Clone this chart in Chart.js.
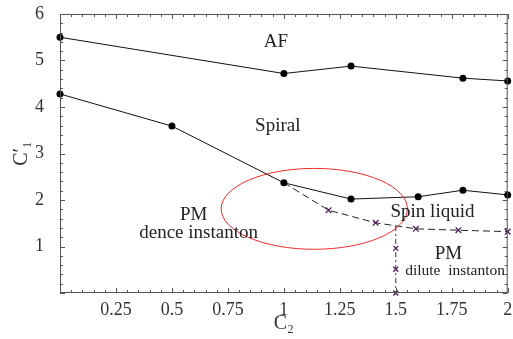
<!DOCTYPE html>
<html>
<head>
<meta charset="utf-8">
<script src="https://cdn.jsdelivr.net/npm/chart.js@4/dist/chart.umd.min.js"></script>
<style>
  html, body { margin: 0; padding: 0; background: #fff; }
  #wrap { width: 513px; height: 339px; }
</style>
</head>
<body>
<div id="wrap"><canvas id="phaseChart"></canvas></div>
<script>
// phase boundary lines
const afX = [0, 1, 1.3, 1.8, 2];
const afY = [5.5, 4.72, 4.88, 4.62, 4.56];

const spiralX = [0, 0.5, 1, 1.3, 1.6, 1.8, 2];
const spiralY = [4.28, 3.59, 2.37, 2.02, 2.07, 2.21, 2.11];

const diluteX = [1, 1.2, 1.41, 1.59, 1.78, 2];
const diluteY = [2.37, 1.78, 1.51, 1.38, 1.35, 1.32];

const verticalX = [1.5, 1.5, 1.5, 1.5];
const verticalY = [1.44, 0.96, 0.51, 0];

const xTickLabels = [0.25, 0.5, 0.75, 1, 1.25, 1.5, 1.75, 2];
const yTickLabels = [1, 2, 3, 4, 5, 6];

// region names, placed in data units
const regionNames = ['AF', 'Spiral', 'PM', 'dence instanton', 'Spin liquid', 'PM', 'dilute  instanton'];
const regionX = [0.965, 0.973, 0.597, 0.619, 1.664, 1.735, 1.765];
const regionY = [5.4, 3.6, 1.68, 1.29, 1.74, 0.84, 0.47];
const regionSize = [19, 19, 19, 19, 19, 19, 15.5];

// red ellipse: centre and radii in data units
const ellipse = { cx: 1.136, cy: 1.81, rx: 0.416, ry: 0.87 };

const toPoints = (xs, ys) => xs.map((x, i) => ({ x: x, y: ys[i] }));
const serif = '"Liberation Serif", "DejaVu Serif", serif';

const framePlugin = {
  id: 'frame',
  afterDatasetsDraw(chart) {
    const ctx = chart.ctx;
    const a = chart.chartArea;
    const xs = chart.scales.x, ys = chart.scales.y;
    ctx.save();
    // ellipse
    const cx = xs.getPixelForValue(ellipse.cx), cy = ys.getPixelForValue(ellipse.cy);
    const rx = xs.getPixelForValue(ellipse.cx + ellipse.rx) - cx;
    const ry = cy - ys.getPixelForValue(ellipse.cy + ellipse.ry);
    ctx.strokeStyle = '#ee2b2b';
    ctx.lineWidth = 1;
    ctx.beginPath();
    ctx.ellipse(cx, cy, rx, ry, 0, 0, Math.PI * 2);
    ctx.stroke();

    // frame + inward ticks
    ctx.strokeStyle = '#555';
    ctx.lineWidth = 1;
    ctx.strokeRect(a.left + 0.5, a.top + 0.5, a.right - a.left - 1, a.bottom - a.top - 1);
    ctx.beginPath();
    for (let i = 0; i <= 40; i++) {
      const px = Math.round(xs.getPixelForValue(i * 0.05)) + 0.5;
      const len = i % 5 === 0 ? 5 : 3;
      ctx.moveTo(px, a.bottom); ctx.lineTo(px, a.bottom - len);
      ctx.moveTo(px, a.top); ctx.lineTo(px, a.top + len);
    }
    for (let i = 0; i <= 30; i++) {
      const py = Math.round(ys.getPixelForValue(i * 0.2)) + 0.5;
      const len = i % 5 === 0 ? 5 : 3;
      ctx.moveTo(a.left, py); ctx.lineTo(a.left + len, py);
      ctx.moveTo(a.right, py); ctx.lineTo(a.right - len, py);
    }
    ctx.stroke();

    // region labels
    ctx.fillStyle = '#222';
    ctx.textAlign = 'center';
    ctx.textBaseline = 'middle';
    regionNames.forEach((name, i) => {
      ctx.font = regionSize[i] + 'px ' + serif;
      ctx.fillText(name, xs.getPixelForValue(regionX[i]), ys.getPixelForValue(regionY[i]));
    });
    ctx.restore();
  }
};

const solidLine = {
  showLine: true,
  borderColor: '#111',
  backgroundColor: '#000',
  borderWidth: 1,
  pointRadius: 3.5,
  pointBorderWidth: 0,
  pointBackgroundColor: '#000',
  clip: false
};

new Chart(document.getElementById('phaseChart').getContext('2d'), {
  type: 'scatter',
  data: {
    datasets: [
      Object.assign({ label: 'AF', data: toPoints(afX, afY) }, solidLine),
      Object.assign({ label: 'Spiral', data: toPoints(spiralX, spiralY) }, solidLine),
      {
        label: 'dilute',
        data: toPoints(diluteX, diluteY),
        showLine: true,
        borderColor: '#222',
        borderWidth: 1,
        borderDash: [7, 4],
        pointStyle: 'crossRot',
        pointRadius: [0, 4, 4, 4, 4, 4],
        pointBorderColor: '#4a1f55',
        pointBorderWidth: 1.3,
        clip: false
      },
      {
        label: 'vertical',
        data: toPoints(verticalX, verticalY),
        showLine: true,
        borderColor: '#333',
        borderWidth: 1,
        borderDash: [5, 3, 2, 3],
        pointStyle: 'crossRot',
        pointRadius: [0, 3.5, 3.5, 3.5],
        pointBorderColor: '#4a1f55',
        pointBorderWidth: 1.3,
        clip: false
      }
    ]
  },
  options: {
    responsive: true,
    maintainAspectRatio: false,
    animation: false,
    layout: { padding: { top: 14, right: 2, left: 0, bottom: 0 } },
    plugins: {
      legend: { display: false },
      tooltip: { enabled: false }
    },
    scales: {
      x: {
        type: 'linear',
        min: 0,
        max: 2,
        grid: { display: false },
        border: { display: false },
        afterBuildTicks: (scale) => { scale.ticks = xTickLabels.map(v => ({ value: v })); },
        afterFit: (scale) => { scale.height = 46; scale.paddingLeft = 0; scale.paddingRight = 0; },
        ticks: {
          color: '#333',
          padding: -2,
          maxRotation: 0,
          font: { family: serif, size: 18 },
          callback: (v) => String(v)
        },
        title: {
          display: true,
          text: 'C₂',
          color: '#333',
          padding: { top: 0, bottom: 3 },
          font: { family: serif, size: 20 }
        }
      },
      y: {
        type: 'linear',
        min: 0,
        max: 6,
        grid: { display: false },
        border: { display: false },
        afterBuildTicks: (scale) => { scale.ticks = yTickLabels.map(v => ({ value: v })); },
        afterFit: (scale) => { scale.width = 60; scale.paddingTop = 0; scale.paddingBottom = 0; },
        ticks: {
          color: '#333',
          padding: 8,
          font: { family: serif, size: 18 },
          callback: (v) => String(v)
        },
        title: {
          display: true,
          text: 'C′₁',
          color: '#333',
          padding: { top: 10, bottom: 0 },
          font: { family: serif, size: 20 }
        }
      }
    }
  },
  plugins: [framePlugin]
});
</script>
</body>
</html>
